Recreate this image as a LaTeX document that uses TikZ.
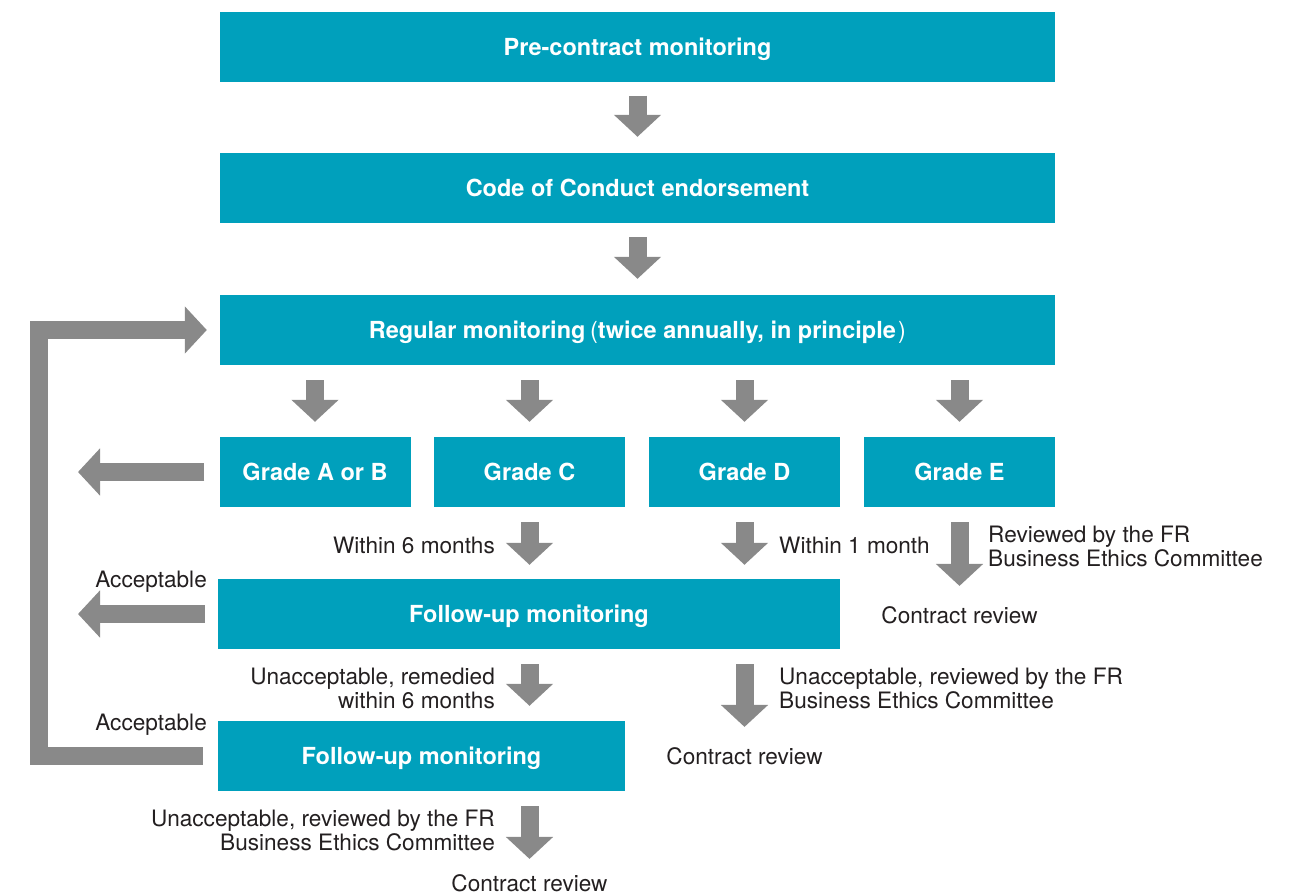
\documentclass[tikz,border=0pt]{standalone}
\usepackage{fontspec}
\setmainfont{TeX Gyre Heros}
\usetikzlibrary{arrows.meta}
\definecolor{boxteal}{HTML}{00A0BC}
\definecolor{arrgray}{HTML}{898989}
\definecolor{txtdark}{HTML}{231F20}

\begin{document}
\begin{tikzpicture}[x=1pt,y=-1pt,
  box/.style={fill=boxteal,text=white,font=\fontsize{23.5}{26}\selectfont\bfseries,
    minimum height=70,inner sep=0,text height=17pt,text depth=0pt},
  note/.style={text=txtdark,font=\fontsize{22.6}{24}\selectfont,inner sep=0},
  blk/.style={draw=arrgray,line width=18pt,line join=miter,
    -{Triangle[width=46pt,length=22pt]}}]
  \useasboundingbox (0,0) rectangle (1293,895);
  \node[box,minimum width=835] (pre) at (637.5,46.5) {Pre-contract monitoring};
  \node[box,minimum width=835] (coc) at (637.5,188) {Code of Conduct endorsement};
  \node[box,minimum width=835] (reg) at (637.5,330)
    {Regular monitoring\hspace{.2em}{\mdseries(}twice annually, in principle\hspace{.1em}{\mdseries)}};
  \draw[blk,shorten <=14pt,shorten >=16pt] (pre.south) -- (coc.north);
  \draw[blk,shorten <=14pt,shorten >=16pt] (coc.south) -- (reg.north);
  % grades
  \foreach \nm/\xx/\lbl in {gA/315/Grade A or B,gC/529.5/Grade C,gD/744.5/Grade D,gE/959.5/Grade E} {
    \node[box,minimum width=191] (\nm) at (\xx,472) {\lbl};
    \draw[blk,shorten <=15pt,shorten >=15pt] (\nm.north |- reg.south) -- (\nm.north);
  }
  \node[box,minimum width=622] (fu1) at (529,614) {Follow-up monitoring};
  \node[box,minimum width=407] (fu2) at (421.5,756) {Follow-up monitoring};
  \node[note,anchor=base] (cr1) at (959.5,623) {Contract review};
  \node[note,anchor=base] (cr2) at (744.5,764) {Contract review};
  \node[note,anchor=base] (cr3) at (529.5,891) {Contract review};
  % labels
  \node[note,anchor=base east] (w6) at (495,553) {Within 6 months};
  \node[note,anchor=base west] (w1) at (779,553) {Within 1 month};
  \node[note,anchor=west,align=left] (rvE) at (988,546) {Reviewed by the FR\\Business Ethics Committee};
  \node[note,anchor=east,align=right] (rem) at (495,688) {Unacceptable, remedied\\within 6 months};
  \node[note,anchor=west,align=left] (rvD) at (779,688) {Unacceptable, reviewed by the FR\\Business Ethics Committee};
  \node[note,anchor=east,align=right] (rvC) at (495,830) {Unacceptable, reviewed by the FR\\Business Ethics Committee};
  \node[note,anchor=base east] (acc1) at (207,587) {Acceptable};
  \node[note,anchor=base east] (acc2) at (207,730) {Acceptable};
  % arrows below the grades
  \draw[blk,shorten <=15pt,shorten >=14pt] (gC.south) -- (gC.south |- fu1.north);
  \draw[blk,shorten <=15pt,shorten >=14pt] (gD.south) -- (gD.south |- fu1.north);
  \draw[blk,shorten <=15pt,shorten >=20pt] (gE.south) -- (cr1.north);
  \draw[blk,shorten <=15pt,shorten >=15pt] (gC |- fu1.south) -- (gC |- fu2.north);
  \draw[blk,shorten <=15pt,shorten >=20pt] (cr2.north |- fu1.south) -- (cr2.north);
  \draw[blk,shorten <=15pt,shorten >=15pt] (cr3.north |- fu2.south) -- (cr3.north);
  % back to regular monitoring
  \coordinate (outA) at (78,472);
  \coordinate (outF) at (78,614);
  \draw[blk,shorten <=15pt] (gA.west) -- (outA);
  \draw[blk,shorten <=13pt] (fu1.west) -- (outF);
  \draw[blk] ([xshift=-15pt]fu2.west) -- ++(-164,0) |- ([xshift=-13pt]reg.west);
\end{tikzpicture}
\end{document}
